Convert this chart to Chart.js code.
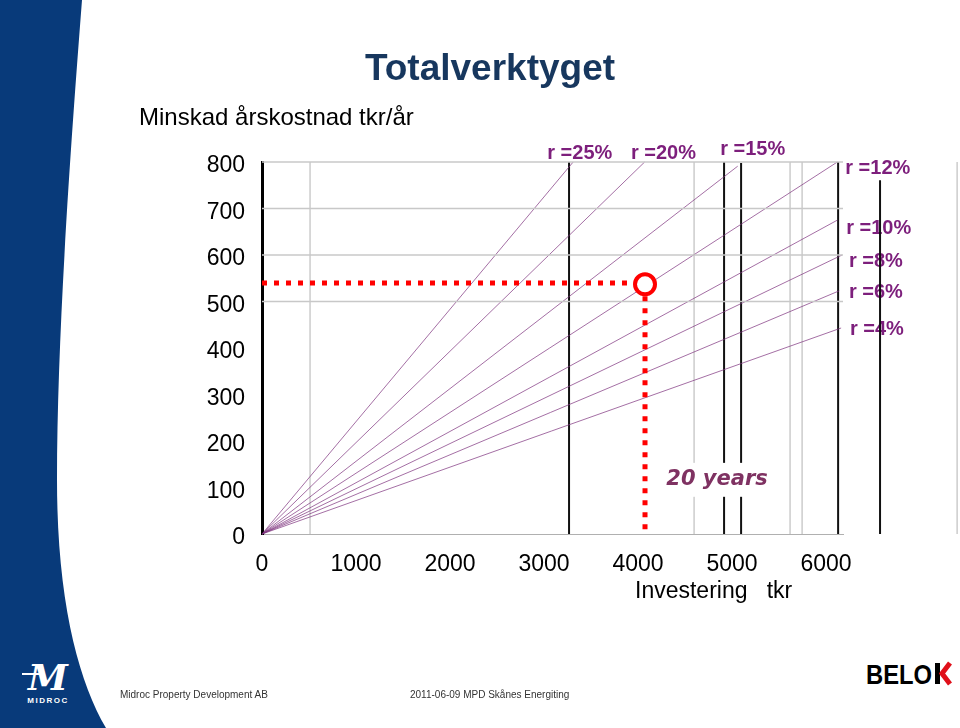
<!DOCTYPE html>
<html>
<head>
<meta charset="utf-8">
<script src="https://cdn.jsdelivr.net/npm/chart.js@4.4.0/dist/chart.umd.min.js"></script>
<style>
    body { margin: 0; width: 960px; height: 728px; background: #fff; position: relative; overflow: hidden; font-family: "Liberation Sans", Arial, sans-serif; }
    #band { position: absolute; left: 0; top: 0; }
    #chart { position: absolute; left: 0; top: 0; }
    .txt { position: absolute; white-space: pre; }
    #title { left: 0; width: 980px; top: 47px; text-align: center; font-size: 37px; font-weight: bold; color: #17375e; }
    #ytitle { left: 139px; top: 103px; font-size: 24px; color: #000; }
    #xtitle { left: 635px; top: 577px; font-size: 23px; color: #000; }
    .foot { top: 689px; font-size: 10px; color: #333; }
</style>
</head>
<body>
<svg id="band" width="960" height="728">
    <path d="M0,0 L82,0 C72,130 57,330 57,480 C57,600 78,680 106,728 L0,728 Z" fill="#083a7a"/>
    <!-- MIDROC logo -->
    <text x="48" y="690" text-anchor="middle" font-family="DejaVu Serif" font-style="italic" font-weight="bold" font-size="36" fill="#fff">M</text>
    <rect x="22" y="673" width="20" height="2" fill="#fff"/>
    <text x="48" y="703" text-anchor="middle" font-family="Liberation Sans" font-weight="bold" font-size="8" letter-spacing="1.5" fill="#fff">MIDROC</text>
    <!-- BELOK logo -->
    <text x="866" y="684" font-family="Liberation Sans" font-weight="bold" font-size="28" textLength="66" lengthAdjust="spacingAndGlyphs" fill="#000">BELO</text>
    <rect x="935" y="663" width="5" height="21" fill="#000"/>
    <path d="M950,663 L942,673.5 L950,684" stroke="#e0101a" stroke-width="5" fill="none"/>
</svg>
<canvas id="chart" width="960" height="728"></canvas>
<div id="title" class="txt">Totalverktyget</div>
<div id="ytitle" class="txt">Minskad årskostnad tkr/år</div>
<div id="xtitle" class="txt">Investering   tkr</div>
<div class="txt foot" style="left:120px">Midroc Property Development AB</div>
<div class="txt foot" style="left:410px">2011-06-09 MPD Skånes Energiting</div>
<script>
// Rate lines: each goes from origin to its end point
const rateNames = ['r =25%', 'r =20%', 'r =15%', 'r =12%', 'r =10%', 'r =8%', 'r =6%', 'r =4%'];
const rateEndInvest = [3310, 4070, 5060, 6120, 6120, 6170, 6140, 6160];
const rateEndSaving = [800, 800, 791, 800, 675, 600, 523, 443];
// where the rate labels sit (data coords)
const rateLabelX = [3380, 4270, 5220, 6550, 6560, 6530, 6530, 6540];
const rateLabelY = [819, 819, 826, 787, 658, 587, 520, 439];

// Black and gray vertical marker lines
const blackLineX = [3266, 4915, 5096, 6128, 6574];
const blackLineTop = [800, 800, 798, 800, 761];
const grayLineX = [511, 4596, 5617, 5745, 7394];

// Example reading: 4000 tkr investment
const exampleInvest = 4074;
const exampleSaving = 540;
const exampleCircle = 537;

const yTicks = [0, 100, 200, 300, 400, 500, 600, 700, 800];
const xTicks = [0, 1000, 2000, 3000, 4000, 5000, 6000];

const purple = '#7d1f7c';

const datasets = [];

// red dotted reading lines + circle (first = drawn on top)
datasets.push({
    data: [{ x: exampleInvest, y: exampleCircle }],
    pointRadius: 10, pointBorderWidth: 4,
    pointBorderColor: '#ff0000', pointBackgroundColor: '#fff', showLine: false
});
datasets.push({
    data: [{ x: 0, y: exampleSaving }, { x: exampleInvest, y: exampleSaving }],
    borderColor: '#ff0000', borderWidth: 5, borderDash: [5, 7]
});
datasets.push({
    data: [{ x: exampleInvest, y: exampleCircle }, { x: exampleInvest, y: 0 }],
    borderColor: '#ff0000', borderWidth: 5, borderDash: [5, 7]
});

// horizontal grid lines (only the upper part of the plot has them)
[800, 700, 600, 500].forEach(v => {
    datasets.push({
        data: [{ x: 0, y: v }, { x: 6180, y: v }],
        borderColor: '#c8c8c8', borderWidth: 1.5
    });
});

rateNames.forEach((name, i) => {
    datasets.push({
        label: name,
        data: [{ x: 0, y: 0 }, { x: rateEndInvest[i], y: rateEndSaving[i] }],
        borderColor: 'rgba(125,50,125,0.7)', borderWidth: 1
    });
});

blackLineX.forEach((x, i) => {
    datasets.push({
        data: [{ x: x, y: 0 }, { x: x, y: blackLineTop[i] }],
        borderColor: '#111', borderWidth: 2
    });
});

grayLineX.forEach(x => {
    datasets.push({
        data: [{ x: x, y: 0 }, { x: x, y: 800 }],
        borderColor: '#cccccc', borderWidth: 1.5
    });
});

datasets.forEach(d => {
    d.showLine = d.showLine !== false;
    if (d.pointRadius === undefined) d.pointRadius = 0;
    d.clip = false;
    d.borderCapStyle = 'butt';
});

// rate labels go under the lines, so the black verticals cross them
const rateLabelPlugin = {
    id: 'rateLabels',
    beforeDatasetsDraw(chart) {
        const { ctx, scales: { x, y } } = chart;
        ctx.save();
        ctx.font = 'bold 20px "Liberation Sans", Arial';
        ctx.fillStyle = purple;
        ctx.textAlign = 'center';
        ctx.textBaseline = 'middle';
        rateNames.forEach((name, i) => {
            ctx.fillText(name, x.getPixelForValue(rateLabelX[i]), y.getPixelForValue(rateLabelY[i]));
        });
        ctx.restore();
    }
};

// "20 years" note with white background
const yearsPlugin = {
    id: 'yearsNote',
    afterDatasetsDraw(chart) {
        const { ctx, scales: { x, y } } = chart;
        const left = x.getPixelForValue(4180);
        const right = x.getPixelForValue(5470);
        const top = y.getPixelForValue(153);
        const bottom = y.getPixelForValue(80);
        ctx.save();
        ctx.fillStyle = '#fff';
        ctx.fillRect(left, top, right - left, bottom - top);
        ctx.font = 'italic bold 21px "DejaVu Sans"';
        ctx.fillStyle = '#7f3262';
        ctx.textAlign = 'center';
        ctx.textBaseline = 'middle';
        ctx.fillText('20 years', x.getPixelForValue(4840), y.getPixelForValue(117));
        ctx.restore();
    }
};

new Chart(document.getElementById('chart'), {
    type: 'scatter',
    data: { datasets: datasets },
    options: {
        responsive: false,
        animation: false,
        devicePixelRatio: 1,
        layout: { padding: { left: 182, right: 117, top: 162, bottom: 134 } },
        plugins: { legend: { display: false }, tooltip: { enabled: false } },
        scales: {
            x: {
                type: 'linear',
                min: 0, max: 6180,
                afterBuildTicks: s => { s.ticks = xTicks.map(v => ({ value: v })); },
                afterFit: s => { s.height = 60; },
                grid: { display: false },
                border: { color: '#b0b0b0', width: 1 },
                ticks: { color: '#000', padding: 9, maxRotation: 0, callback: v => String(v), font: { size: 23, family: '"Liberation Sans", Arial' } }
            },
            y: {
                min: 0, max: 800,
                afterBuildTicks: s => { s.ticks = yTicks.map(v => ({ value: v })); },
                afterFit: s => { s.width = 80; },
                grid: { display: false },
                border: { color: '#000', width: 3 },
                ticks: { color: '#000', padding: 9, labelOffset: 4, font: { size: 23, family: '"Liberation Sans", Arial' } }
            }
        }
    },
    plugins: [rateLabelPlugin, yearsPlugin]
});
</script>
</body>
</html>
